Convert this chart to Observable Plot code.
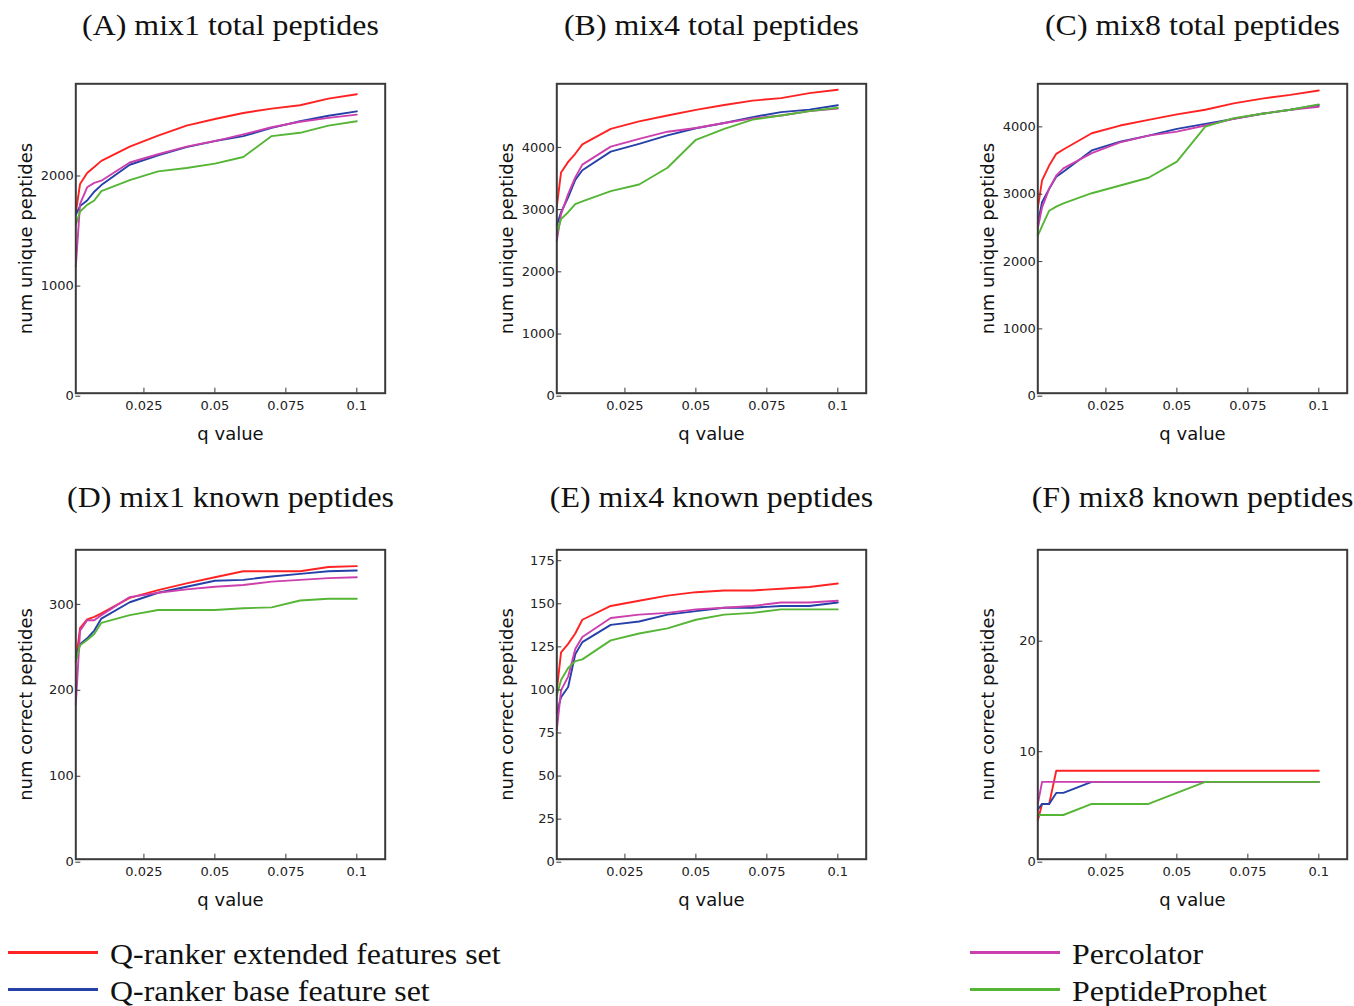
<!DOCTYPE html>
<html>
<head>
<meta charset="utf-8">
<script src="https://cdn.jsdelivr.net/npm/d3@7"></script>
<script src="https://cdn.jsdelivr.net/npm/@observablehq/plot@0.6"></script>
<style>
  html, body { margin: 0; padding: 0; background: #fff; overflow: hidden; }
  #root { position: relative; width: 1354px; height: 1006px; }
  .panel { position: absolute; }
  .title { position: absolute; width: 481px; text-align: center; font-family: "Liberation Serif", "DejaVu Serif", serif; font-size: 29px; line-height: 30px; color: #111; white-space: nowrap; transform: scaleX(1.1); transform-origin: center; }
  .leg { position: absolute; font-family: "Liberation Serif", "DejaVu Serif", serif; font-size: 29px; line-height: 30px; color: #111; white-space: nowrap; transform: scaleX(1.1); transform-origin: left center; }
  .sw { position: absolute; width: 90px; height: 3px; }
</style>
</head>
<body>
<div id="root"></div>
<script>
// q values shared by all panels
const qValues = [0.001, 0.0025, 0.005, 0.0075, 0.01, 0.02, 0.03, 0.04, 0.05, 0.06, 0.07, 0.08, 0.09, 0.1];
const xTicks = [0.025, 0.05, 0.075, 0.1];

const seriesNames = ["Q-ranker extended features set", "Q-ranker base feature set", "Percolator", "PeptideProphet"];
const seriesColors = ["#ff2222", "#2540a8", "#cc3fae", "#55b535"];

// (A) mix1 total peptides
const mix1TotalExt  = [1640, 1900, 2000, 2055, 2110, 2240, 2340, 2430, 2490, 2545, 2585, 2615, 2675, 2715];
const mix1TotalBase = [1620, 1700, 1750, 1830, 1890, 2075, 2160, 2235, 2290, 2335, 2410, 2470, 2520, 2560];
const mix1TotalPerc = [1150, 1720, 1870, 1910, 1930, 2095, 2170, 2240, 2290, 2350, 2415, 2465, 2500, 2530];
const mix1TotalPP   = [1530, 1650, 1710, 1750, 1835, 1935, 2015, 2045, 2085, 2145, 2335, 2365, 2430, 2470];
// (B) mix4 total peptides
const mix4TotalExt  = [3000, 3550, 3720, 3850, 4000, 4250, 4370, 4465, 4555, 4635, 4705, 4745, 4825, 4880];
const mix4TotalBase = [2700, 2910, 3150, 3430, 3585, 3885, 4010, 4145, 4260, 4345, 4440, 4520, 4560, 4630];
const mix4TotalPerc = [2450, 2880, 3200, 3470, 3675, 3965, 4090, 4205, 4265, 4345, 4420, 4465, 4535, 4575];
const mix4TotalPP   = [2560, 2800, 2910, 3040, 3085, 3250, 3355, 3625, 4075, 4250, 4400, 4465, 4535, 4590];
// (C) mix8 total peptides
const mix8TotalExt  = [2750, 3160, 3380, 3555, 3620, 3860, 3975, 4060, 4140, 4210, 4305, 4375, 4430, 4495];
const mix8TotalBase = [2520, 2835, 3035, 3215, 3290, 3605, 3735, 3825, 3925, 4000, 4075, 4150, 4210, 4280];
const mix8TotalPerc = [2450, 2760, 3035, 3230, 3340, 3565, 3725, 3825, 3885, 3975, 4075, 4150, 4210, 4255];
const mix8TotalPP   = [2340, 2480, 2710, 2770, 2820, 2970, 3085, 3200, 3440, 3960, 4085, 4150, 4210, 4290];
// (D) mix1 known peptides
const mix1KnownExt  = [230, 269, 279, 282, 286, 304, 313, 321, 328, 335, 335, 335, 340, 341];
const mix1KnownBase = [235, 250, 257, 266, 280, 299, 310, 317, 324, 325, 329, 332, 335, 336];
const mix1KnownPerc = [180, 266, 278, 278, 284, 305, 310, 314, 317, 319, 323, 325, 327, 328];
const mix1KnownPP   = [230, 249, 255, 262, 275, 284, 290, 290, 290, 292, 293, 301, 303, 303];
// (E) mix4 known peptides
const mix4KnownExt  = [98, 120, 125, 131, 139, 147, 150, 153, 155, 156, 156, 157, 158, 160];
const mix4KnownBase = [85, 94, 100, 119, 126, 136, 138, 142, 144, 146, 146, 147, 147, 149];
const mix4KnownPerc = [75, 98, 106, 122, 129, 140, 142, 143, 145, 146, 147, 149, 149, 150];
const mix4KnownPP   = [95, 104, 111, 115, 116, 127, 131, 134, 139, 142, 143, 145, 145, 145];
// (F) mix8 known peptides
const mix8KnownExt  = [3.5, 5, 5, 8, 8, 8, 8, 8, 8, 8, 8, 8, 8, 8];
const mix8KnownBase = [4.5, 5, 5, 6, 6, 7, 7, 7, 7, 7, 7, 7, 7, 7];
const mix8KnownPerc = [5, 7, 7, 7, 7, 7, 7, 7, 7, 7, 7, 7, 7, 7];
const mix8KnownPP   = [4, 4, 4, 4, 4, 5, 5, 5, 6, 7, 7, 7, 7, 7];

const panelTitles = ["(A) mix1 total peptides", "(B) mix4 total peptides", "(C) mix8 total peptides",
                     "(D) mix1 known peptides", "(E) mix4 known peptides", "(F) mix8 known peptides"];
const yLabels = ["num unique peptides", "num unique peptides", "num unique peptides",
                 "num correct peptides", "num correct peptides", "num correct peptides"];
const yMaxes = [2810, 4975, 4595, 360, 179.6, 28];
const yTickSets = [[0, 1000, 2000], [0, 1000, 2000, 3000, 4000], [0, 1000, 2000, 3000, 4000],
                   [0, 100, 200, 300], [0, 25, 50, 75, 100, 125, 150, 175], [0, 10, 20]];
const panelSeries = [
  [mix1TotalExt, mix1TotalBase, mix1TotalPerc, mix1TotalPP],
  [mix4TotalExt, mix4TotalBase, mix4TotalPerc, mix4TotalPP],
  [mix8TotalExt, mix8TotalBase, mix8TotalPerc, mix8TotalPP],
  [mix1KnownExt, mix1KnownBase, mix1KnownPerc, mix1KnownPP],
  [mix4KnownExt, mix4KnownBase, mix4KnownPerc, mix4KnownPP],
  [mix8KnownExt, mix8KnownBase, mix8KnownPerc, mix8KnownPP]
];

const root = document.getElementById("root");
const colLeft = [0, 481, 962];
const rowTop = [60, 526];
const titleTop = [10, 482];
const PLOT_H = 390, MT = 23.3, MB = 57.3, ML = 75.3, FRAME = 309.4;

panelSeries.forEach((series, p) => {
  const col = p % 3, row = Math.floor(p / 3);
  const width = col === 2 ? 392 : 481;
  const lineMarks = series.map((vals, s) =>
    Plot.line(qValues.map((q, i) => ({q, v: vals[i]})), {
      x: "q", y: "v", stroke: seriesColors[s], strokeWidth: 1.9, strokeLinejoin: "round"
    })
  );
  const chart = Plot.plot({
    width, height: PLOT_H,
    marginTop: MT, marginBottom: MB, marginLeft: ML, marginRight: width - ML - FRAME,
    style: {fontFamily: "DejaVu Sans, sans-serif", fontSize: "13px", color: "#222", background: "transparent", overflow: "visible"},
    x: {domain: [0.001, 0.11]},
    y: {domain: [0, yMaxes[p]]},
    marks: [
      ...lineMarks,
      Plot.frame({stroke: "#3a3a3a", strokeWidth: 2}),
      Plot.axisX({ticks: xTicks, tickSize: -5, tickPadding: 13, tickFormat: d => String(d), label: null, stroke: "#3a3a3a"}),
      Plot.axisY({ticks: yTickSets[p], tickSize: -5, tickPadding: 7, dy: 3, tickFormat: d => String(d), label: null, stroke: "#3a3a3a"}),
      Plot.text([yLabels[p]], {frameAnchor: "left", textAnchor: "middle", lineAnchor: "middle", dx: -50, rotate: -90, fontSize: 18, fill: "#111"}),
      Plot.text(["q value"], {frameAnchor: "bottom", textAnchor: "middle", lineAnchor: "middle", dy: 41, fontSize: 18, fill: "#111"})
    ]
  });
  chart.classList.add("panel");
  chart.style.left = colLeft[col] + "px";
  chart.style.top = rowTop[row] + "px";
  root.appendChild(chart);

  const t = document.createElement("div");
  t.className = "title";
  t.textContent = panelTitles[p];
  t.style.left = (colLeft[col] + ML + FRAME / 2 - 240.5) + "px";
  t.style.top = titleTop[row] + "px";
  root.appendChild(t);
});

// legend
const legendPos = [[8, 952, 110], [8, 989, 110], [970, 952, 1072], [970, 989, 1072]];
seriesNames.forEach((name, s) => {
  const [sx, sy, tx] = legendPos[s];
  const sw = document.createElement("div");
  sw.className = "sw";
  sw.style.left = sx + "px";
  sw.style.top = (sy - 1.5) + "px";
  sw.style.background = seriesColors[s];
  root.appendChild(sw);
  const lt = document.createElement("div");
  lt.className = "leg";
  lt.textContent = name;
  lt.style.left = tx + "px";
  lt.style.top = (sy - 13) + "px";
  root.appendChild(lt);
});
</script>
</body>
</html>
